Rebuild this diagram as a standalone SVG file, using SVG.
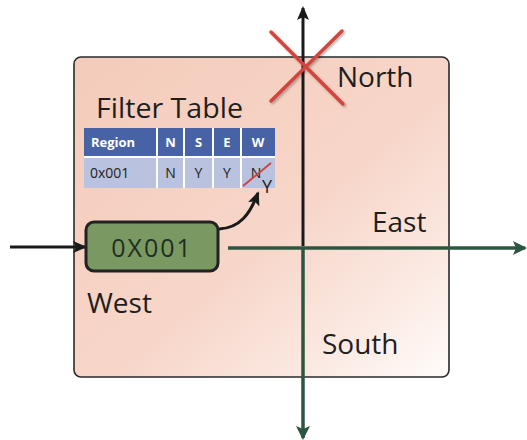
<svg xmlns="http://www.w3.org/2000/svg" width="527" height="440" viewBox="0 0 527 440">
  <style>
    .lbl { font-family: "Open Sans", "Liberation Sans", sans-serif; font-size: 28px; fill: #1e1e1e; }
    .hdr { font-family: "Open Sans", "Liberation Sans", sans-serif; font-size: 13px; font-weight: bold; fill: #ffffff; }
    .cell { font-family: "Open Sans", "Liberation Sans", sans-serif; font-size: 14px; fill: #222222; }
    .blk { stroke: #1a1a1a; stroke-width: 3; fill: none; }
    .grn { stroke: #2c5640; stroke-width: 3.5; fill: none; }
    .cross { stroke: #d0443c; stroke-width: 3.5; stroke-linecap: round; }
  </style>
  <defs>
    <linearGradient id="areaFill" x1="0" y1="0" x2="1" y2="1">
      <stop offset="0" stop-color="#f4cbba"/>
      <stop offset="0.55" stop-color="#f7d6c9"/>
      <stop offset="0.8" stop-color="#fbe9e2"/>
      <stop offset="1" stop-color="#fffcfa"/>
    </linearGradient>
    <marker id="arrK" markerWidth="14" markerHeight="12" refX="12" refY="6" orient="auto" markerUnits="userSpaceOnUse">
      <path d="M0,0 L14,6 L0,12 L3,6 Z" fill="#1a1a1a"/>
    </marker>
    <marker id="arrG" markerWidth="14" markerHeight="14" refX="12" refY="7" orient="auto" markerUnits="userSpaceOnUse">
      <path d="M0,0 L14,7 L0,14 L3,7 Z" fill="#2c5640"/>
    </marker>
    <filter id="soft" x="-10%" y="-10%" width="120%" height="120%">
      <feDropShadow dx="1.5" dy="1.5" stdDeviation="1" flood-color="#000" flood-opacity="0.3"/>
    </filter>
  </defs>

  <!-- router area -->
  <g id="area">
    <rect x="74" y="57" width="375" height="320" rx="7" fill="url(#areaFill)" stroke="#2a2a2a" stroke-width="1.6"/>
  </g>

  <!-- connectors -->
  <g id="connectors">
    <line x1="10" y1="247" x2="85" y2="247" class="blk" marker-end="url(#arrK)"/>
    <path d="M303,246 L303,8" class="blk" marker-end="url(#arrK)"/>
    <line x1="228" y1="248" x2="525" y2="248" class="grn" marker-end="url(#arrG)"/>
    <line x1="303" y1="248" x2="303" y2="438" class="grn" marker-end="url(#arrG)"/>
    <path d="M219,229 C240,228 250,214 258,193" class="blk" marker-end="url(#arrK)"/>
  </g>

  <!-- blocked north port -->
  <g id="north-block" filter="url(#soft)">
    <line x1="271" y1="32" x2="343" y2="104" class="cross"/>
    <line x1="342" y1="31" x2="271" y2="101" class="cross"/>
  </g>

  <g id="north"><text class="lbl" x="337" y="87">North</text></g>
  <g id="east"><text class="lbl" x="372" y="232">East</text></g>
  <g id="south"><text class="lbl" x="322" y="354">South</text></g>
  <g id="west"><text class="lbl" x="87" y="313">West</text></g>

  <!-- filter table -->
  <g id="filter-table">
    <text class="lbl" x="96" y="118" textLength="147" lengthAdjust="spacingAndGlyphs">Filter Table</text>
    <rect x="84" y="128" width="191" height="28" fill="#4862a6"/>
    <rect x="84" y="158" width="191" height="30" fill="#b9c2de"/>
    <g stroke="#ffffff" stroke-width="2">
      <line x1="157" y1="128" x2="157" y2="188"/>
      <line x1="184" y1="128" x2="184" y2="188"/>
      <line x1="213" y1="128" x2="213" y2="188"/>
      <line x1="241" y1="128" x2="241" y2="188"/>
      <line x1="84" y1="157" x2="275" y2="157"/>
    </g>
    <text class="hdr" x="91" y="147">Region</text>
    <text class="hdr" x="170.5" y="147" text-anchor="middle">N</text>
    <text class="hdr" x="198.5" y="147" text-anchor="middle">S</text>
    <text class="hdr" x="227" y="147" text-anchor="middle">E</text>
    <text class="hdr" x="258" y="147" text-anchor="middle">W</text>
    <text class="cell" x="90" y="178">0x001</text>
    <text class="cell" x="170.5" y="178" text-anchor="middle">N</text>
    <text class="cell" x="198.5" y="178" text-anchor="middle">Y</text>
    <text class="cell" x="227" y="178" text-anchor="middle">Y</text>
    <text class="cell" x="256" y="178" text-anchor="middle">N</text>
    <line x1="243" y1="186" x2="271" y2="163" stroke="#d0443c" stroke-width="2"/>
    <text class="cell" x="262" y="193" style="font-size:18px">Y</text>
  </g>

  <!-- incoming packet -->
  <g id="packet">
    <rect x="86" y="222" width="132" height="49" rx="8" fill="#7a9862" stroke="#222222" stroke-width="3"/>
    <text x="152" y="257" text-anchor="middle" font-family="Open Sans, Liberation Sans, sans-serif" font-size="25" letter-spacing="2" fill="#1f2e22">0X001</text>
  </g>
</svg>
